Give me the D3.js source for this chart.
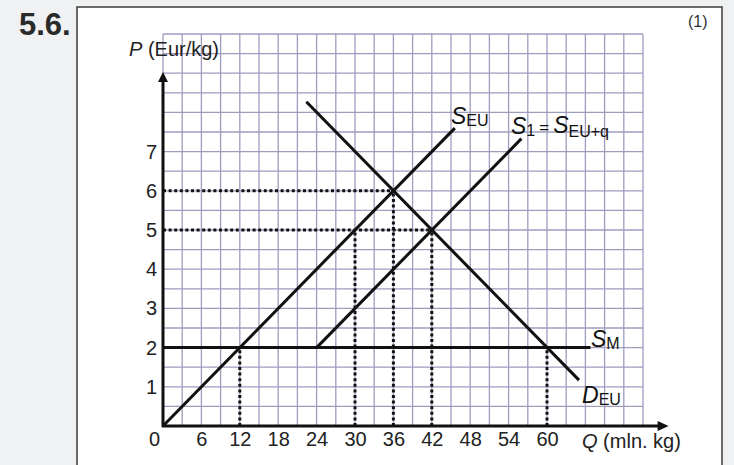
<!DOCTYPE html>
<html><head><meta charset="utf-8">
<script src="https://cdn.jsdelivr.net/npm/d3@7"></script>
<style>
html,body{margin:0;padding:0;background:#eff1f3;}
svg{display:block;font-family:"Liberation Sans",Arial,Helvetica,sans-serif;}
</style></head>
<body>
<svg id="c" width="734" height="465"></svg>
<script>
// ---- data ----
const xTicks = [6, 12, 18, 24, 30, 36, 42, 48, 54, 60];
const yTicks = [1, 2, 3, 4, 5, 6, 7];
const sEU = [[0, 0], [45.6, 7.6]];
const s1 = [[24, 2], [56, 7.33]];
const dEU = [[22.4, 8.27], [65, 1.17]];
const sM = [[0, 2], [66.8, 2]];
const dottedH = [[6, 36], [5, 42]];           // [price, quantity]
const dottedV = [[12, 2], [30, 5], [36, 6], [42, 5], [60, 2]]; // [quantity, price]
const gridX = [0, 75, 3];
const gridY = [0, 10, 0.5];
const axisMax = {x: 79, y: 9.03};

const svg = d3.select("#c");
const x = d3.scaleLinear().domain([0, 75]).range([163, 643]);
const y = d3.scaleLinear().domain([0, 10]).range([426, 34]);
const FONT = "Liberation Sans, Arial, sans-serif";

// panel
svg.append("rect").attr("x", 77).attr("y", 7).attr("width", 645).attr("height", 480)
  .attr("fill", "#fff").attr("stroke", "#3c3c3c").attr("stroke-width", 1.5);

svg.append("text").attr("x", 19).attr("y", 35).attr("font-size", 31).attr("font-weight", "bold")
  .attr("fill", "#2a2a2a").text("5.6.");
svg.append("text").attr("x", 688).attr("y", 27).attr("font-size", 16).attr("fill", "#333").text("(1)");

// grid
const g = svg.append("g").attr("stroke", "#8e8cb4").attr("stroke-width", 1.3).attr("opacity", 0.85);
d3.range(gridX[0], gridX[1] + 0.01, gridX[2]).forEach(v => {
  g.append("line").attr("x1", x(v)).attr("x2", x(v)).attr("y1", y(0)).attr("y2", y(10));
});
d3.range(gridY[0], gridY[1] + 0.01, gridY[2]).forEach(v => {
  g.append("line").attr("x1", x(0)).attr("x2", x(75)).attr("y1", y(v)).attr("y2", y(v));
});

// dotted lines
const dots = svg.append("g").attr("stroke", "#111").attr("stroke-width", 3).attr("stroke-dasharray", "3,2.6");
dottedH.forEach(([p, q]) => dots.append("line").attr("x1", x(0)).attr("x2", x(q)).attr("y1", y(p)).attr("y2", y(p)));
dottedV.forEach(([q, p]) => dots.append("line").attr("x1", x(q)).attr("x2", x(q)).attr("y1", y(0)).attr("y2", y(p)));

// curves
const line = d3.line().x(d => x(d[0])).y(d => y(d[1]));
[sEU, s1, dEU, sM].forEach(d => {
  svg.append("path").attr("d", line(d)).attr("fill", "none").attr("stroke", "#111").attr("stroke-width", 3);
});

// axes lines + arrows
svg.append("line").attr("x1", x(0)).attr("x2", x(0)).attr("y1", y(0) + 1).attr("y2", y(axisMax.y) + 6)
  .attr("stroke", "#111").attr("stroke-width", 3);
svg.append("line").attr("x1", x(0) - 1).attr("x2", x(axisMax.x) - 6).attr("y1", y(0)).attr("y2", y(0))
  .attr("stroke", "#111").attr("stroke-width", 3);
const ty = y(axisMax.y), tx = x(axisMax.x);
svg.append("path").attr("d", `M${x(0)},${ty} L${x(0) - 5},${ty + 10} L${x(0) + 5},${ty + 10} Z`).attr("fill", "#111");
svg.append("path").attr("d", `M${tx},${y(0)} L${tx - 11},${y(0) - 5} L${tx - 11},${y(0) + 5} Z`).attr("fill", "#111");

// tick labels via axes
const xa = svg.append("g").attr("transform", `translate(0,${y(0)})`)
  .call(d3.axisBottom(x).tickValues(xTicks).tickSize(0).tickPadding(6));
const ya = svg.append("g").attr("transform", `translate(${x(0)},0)`)
  .call(d3.axisLeft(y).tickValues(yTicks).tickSize(0).tickPadding(6));
[xa, ya].forEach(a => {
  a.attr("font-size", 20).attr("font-family", FONT);
  a.select(".domain").remove();
  a.selectAll("text").attr("font-size", 20).attr("fill", "#222").attr("font-family", FONT);
});
svg.append("text").attr("x", x(0) - 14).attr("y", y(0) + 20).attr("font-size", 20).attr("fill", "#222").text("0");

// axis titles
const pt = svg.append("text").attr("x", 129).attr("y", 56).attr("font-size", 20).attr("fill", "#222");
pt.append("tspan").attr("font-style", "italic").text("P");
pt.append("tspan").text(" (Eur/kg)");
const qt = svg.append("text").attr("x", 582).attr("y", 448).attr("font-size", 20).attr("fill", "#222");
qt.append("tspan").attr("font-style", "italic").text("Q");
qt.append("tspan").text(" (mln. kg)");

// curve labels
function lab(px, py, main, sub, rest) {
  const t = svg.append("text").attr("x", px).attr("y", py).attr("fill", "#111");
  t.append("tspan").attr("font-style", "italic").attr("font-size", 23).text(main);
  t.append("tspan").attr("font-size", 16).attr("dy", 2).text(sub);
  if (rest) {
    t.append("tspan").attr("font-size", 17).attr("dy", -3).attr("dx", 4).text("=");
    t.append("tspan").attr("font-style", "italic").attr("font-size", 23).attr("dx", 4).text(rest[0]);
    t.append("tspan").attr("font-size", 16).attr("dy", 4).text(rest[1]);
  }
}
lab(451, 124, "S", "EU");
lab(511, 134, "S", "1", ["S", "EU+q"]);
lab(591, 347, "S", "M");
lab(582, 403, "D", "EU");
</script>
</body></html>
